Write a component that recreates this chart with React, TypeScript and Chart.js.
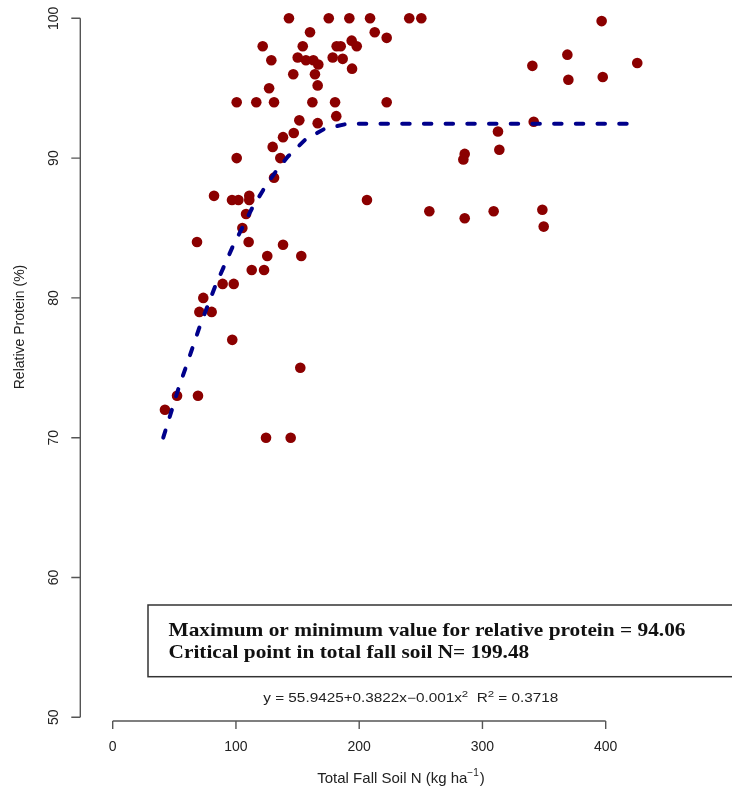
import { useEffect, useRef } from "react";
import { Chart, registerables } from "chart.js";

Chart.register(...registerables);

// Observed points: total fall soil N (kg/ha) and relative protein (%)
const soilN = [
  143.0, 175.3, 192.0, 208.8, 240.6, 250.4, 160.1, 212.6, 222.3, 121.7,
  154.2, 181.7, 185.0, 193.9, 198.0, 128.7, 150.1, 156.8, 162.8, 166.8,
  178.5, 186.6, 146.5, 164.1, 194.2, 166.3, 126.9, 100.6, 116.5, 130.9,
  162.0, 180.4, 222.3, 151.4, 166.3, 181.4, 146.9, 138.2, 129.8, 100.6,
  136.0, 130.9, 82.2, 96.8, 102.0, 110.8, 110.8, 108.2, 105.2, 68.4,
  110.3, 138.2, 125.4, 153.0, 112.8, 122.8, 89.2, 98.2, 73.5, 70.3,
  80.3, 97.0, 152.2, 52.2, 69.2, 42.4, 124.4, 144.4, 206.3, 256.9,
  285.6, 285.6, 284.5, 309.1, 312.6, 313.7, 340.5, 341.6, 348.6, 349.7,
  368.9, 369.7, 396.7, 397.6, 425.6,
];
const relProtein = [
  100, 100, 100, 100, 100, 100, 99.0, 99.0, 98.6, 98.0,
  98.0, 98.0, 98.0, 98.4, 98.0, 97.0, 97.2, 97.0, 97.0, 96.7,
  97.2, 97.1, 96.0, 96.0, 96.4, 95.2, 95.0, 94.0, 94.0, 94.0,
  94.0, 94.0, 94.0, 92.7, 92.5, 93.0, 91.8, 91.5, 90.8, 90.0,
  90.0, 88.6, 87.3, 87.0, 87.0, 87.3, 87.0, 86.0, 85.0, 84.0,
  84.0, 83.8, 83.0, 83.0, 82.0, 82.0, 81.0, 81.0, 80.0, 79.0,
  79.0, 77.0, 75.0, 73.0, 73.0, 72.0, 70.0, 70.0, 87.0, 86.2,
  85.7, 90.3, 89.9, 86.2, 91.9, 90.6, 96.6, 92.6, 86.3, 85.1,
  97.4, 95.6, 99.8, 95.8, 96.8,
];

// Fitted quadratic-plateau curve
const fitN = [41, 54, 60, 65, 70, 76, 83, 90, 97, 105, 113, 122, 132, 142, 156, 172, 190, 427];
const fitProtein = [70.0, 73.7, 75.2, 76.5, 77.8, 79.2, 80.8, 82.2, 83.6, 85.0, 86.4, 87.7, 89.0, 90.1, 91.3, 92.1, 92.45, 92.45];

const xTicks = [0, 100, 200, 300, 400];
const yTicks = [50, 60, 70, 80, 90, 100];

const xTitleMain = "Total Fall Soil N (kg ha";
const xTitleSup = "\u22121";
const xTitleEnd = ")";
const yTitle = "Relative Protein (%)";
const boxLines = [
  "Maximum or minimum value for relative protein = 94.06",
  "Critical point in total fall soil N= 199.48",
];
const equationParts: { t: string; sup?: boolean }[] = [
  { t: "y = 55.9425+0.3822x\u22120.001x" },
  { t: "2", sup: true },
  { t: "  R" },
  { t: "2", sup: true },
  { t: " = 0.3718" },
];

const SANS = '"Liberation Sans", Arial, sans-serif';
const SERIF = '"Liberation Serif", "Times New Roman", serif';

const rAxesPlugin = {
  id: "rAxes",
  afterDraw(chart: any) {
    const { ctx, chartArea } = chart;
    const x = chart.scales.x;
    const y = chart.scales.y;
    ctx.save();

    // axes lines and ticks
    ctx.strokeStyle = "#555555";
    ctx.lineWidth = 1.4;
    const ax = chartArea.left;
    const ay = chartArea.bottom;
    ctx.beginPath();
    ctx.moveTo(ax, y.getPixelForValue(yTicks[0]));
    ctx.lineTo(ax, y.getPixelForValue(yTicks[yTicks.length - 1]));
    yTicks.forEach((t) => {
      const py = y.getPixelForValue(t);
      ctx.moveTo(ax - 9, py);
      ctx.lineTo(ax, py);
    });
    ctx.moveTo(x.getPixelForValue(xTicks[0]), ay);
    ctx.lineTo(x.getPixelForValue(xTicks[xTicks.length - 1]), ay);
    xTicks.forEach((t) => {
      const px = x.getPixelForValue(t);
      ctx.moveTo(px, ay);
      ctx.lineTo(px, ay + 8);
    });
    ctx.stroke();

    // tick labels
    ctx.fillStyle = "#222222";
    ctx.font = `14px ${SANS}`;
    ctx.textAlign = "center";
    ctx.textBaseline = "middle";
    xTicks.forEach((t) => ctx.fillText(String(t), x.getPixelForValue(t), ay + 26));
    yTicks.forEach((t) => {
      ctx.save();
      ctx.translate(ax - 26, y.getPixelForValue(t));
      ctx.rotate(-Math.PI / 2);
      ctx.fillText(String(t), 0, 0);
      ctx.restore();
    });

    // y title
    ctx.save();
    ctx.font = `14px ${SANS}`;
    ctx.translate(20, 327);
    ctx.rotate(-Math.PI / 2);
    ctx.fillText(yTitle, 0, 0);
    ctx.restore();

    // x title with superscript
    ctx.textAlign = "left";
    ctx.textBaseline = "alphabetic";
    ctx.font = `15px ${SANS}`;
    const w1 = ctx.measureText(xTitleMain).width;
    const w3 = ctx.measureText(xTitleEnd).width;
    ctx.font = `10px ${SANS}`;
    const w2 = ctx.measureText(xTitleSup).width;
    const total = w1 + w2 + w3 + 1;
    let sx = 401 - total / 2;
    const base = 783;
    ctx.font = `15px ${SANS}`;
    ctx.fillText(xTitleMain, sx, base);
    sx += w1;
    ctx.font = `10px ${SANS}`;
    ctx.fillText(xTitleSup, sx, base - 7);
    sx += w2 + 1;
    ctx.font = `15px ${SANS}`;
    ctx.fillText(xTitleEnd, sx, base);

    // text box
    ctx.strokeStyle = "#333333";
    ctx.lineWidth = 1.5;
    ctx.strokeRect(148, 605, 640, 71.7);
    ctx.fillStyle = "#111111";
    ctx.font = `bold 19px ${SERIF}`;
    const lw = ctx.measureText(boxLines[0]).width;
    const scaleX = 517 / lw;
    [636, 658].forEach((by, i) => {
      ctx.save();
      ctx.translate(168.5, by);
      ctx.scale(scaleX, 1);
      ctx.fillText(boxLines[i], 0, 0);
      ctx.restore();
    });

    // equation
    ctx.fillStyle = "#222222";
    const mainFont = `12px ${SANS}`;
    const supFont = `9px ${SANS}`;
    let eqW = 0;
    equationParts.forEach((p) => {
      ctx.font = p.sup ? supFont : mainFont;
      eqW += ctx.measureText(p.t).width;
    });
    const eqScale = 295 / eqW;
    ctx.save();
    ctx.translate(263.3, 702);
    ctx.scale(eqScale, 1);
    let ex = 0;
    equationParts.forEach((p) => {
      ctx.font = p.sup ? supFont : mainFont;
      ctx.fillText(p.t, ex, p.sup ? -5 : 0);
      ex += ctx.measureText(p.t).width;
    });
    ctx.restore();

    ctx.restore();
  },
};

export default function App() {
  const canvasRef = useRef<HTMLCanvasElement | null>(null);

  useEffect(() => {
    const canvas = canvasRef.current;
    if (!canvas) return;
    const chart = new Chart(canvas, {
      type: "scatter",
      data: {
        datasets: [
          {
            label: "Fit",
            data: fitN.map((v, i) => ({ x: v, y: fitProtein[i] })),
            showLine: true,
            pointRadius: 0,
            borderColor: "#00008B",
            borderWidth: 4,
            borderDash: [7.5, 14.2],
            borderCapStyle: "round",
            fill: false,
            tension: 0,
            clip: false,
            order: 0,
          } as any,
          {
            label: "Observed",
            data: soilN.map((v, i) => ({ x: v, y: relProtein[i] })),
            pointRadius: 5.3,
            pointBackgroundColor: "#8B0000",
            backgroundColor: "#8B0000",
            pointBorderWidth: 0,
            borderWidth: 0,
            clip: false,
            order: 1,
          } as any,
        ],
      },
      options: {
        animation: false,
        responsive: true,
        maintainAspectRatio: false,
        events: [],
        layout: { autoPadding: false, padding: { left: 80.3, right: 32, top: 0, bottom: 66 } },
        plugins: {
          legend: { display: false },
          tooltip: { enabled: false },
        },
        scales: {
          x: { type: "linear", min: -26.29, max: 476.51, display: false },
          y: { type: "linear", min: 49.735, max: 101.309, display: false },
        },
      } as any,
      plugins: [rAxesPlugin],
    });
    return () => chart.destroy();
  }, []);

  return (
    <div style={{ position: "absolute", left: 0, top: 0, width: 732, height: 787, background: "#ffffff" }}>
      <canvas ref={canvasRef} />
    </div>
  );
}
